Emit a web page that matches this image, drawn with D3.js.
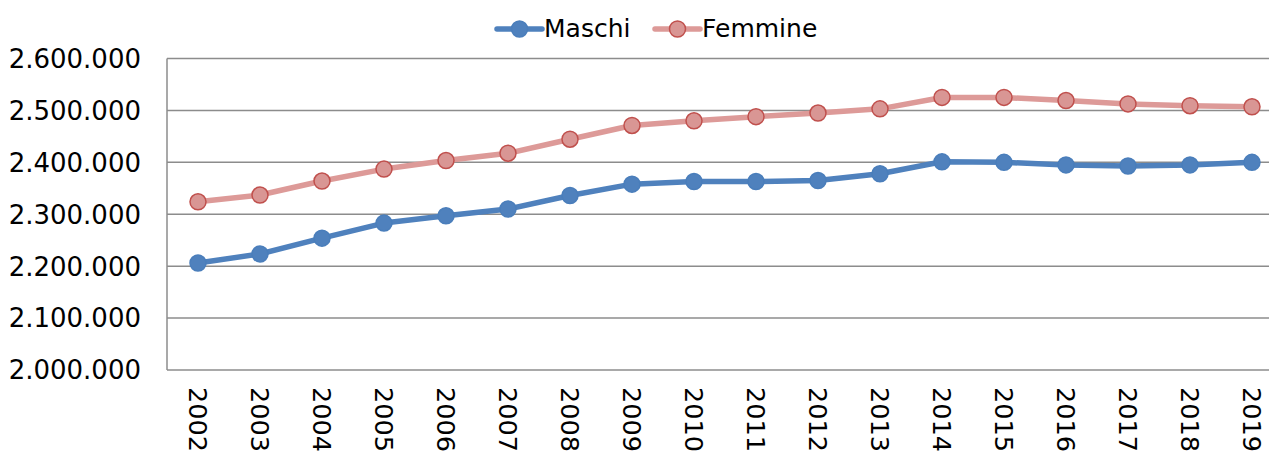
<!DOCTYPE html>
<html>
<head>
<meta charset="utf-8">
<script src="https://cdn.jsdelivr.net/npm/d3@7"></script>
<style>
  body { margin: 0; background: #fff; }
  text { font-family: "DejaVu Sans", Verdana, sans-serif; fill: #000; }
</style>
</head>
<body>
<script>
var width = 1269, height = 451;

var years = ["2002","2003","2004","2005","2006","2007","2008","2009","2010",
             "2011","2012","2013","2014","2015","2016","2017","2018","2019"];

var maschi = [2206000, 2223500, 2254000, 2283000, 2297000, 2310000, 2336000, 2358000, 2363000,
              2363000, 2365000, 2378000, 2401000, 2400000, 2395000, 2393000, 2395000, 2400000];

var femmine = [2324000, 2337000, 2364000, 2387000, 2403500, 2417500, 2444500, 2471000, 2480000,
               2488000, 2495000, 2503000, 2525000, 2525000, 2519000, 2512500, 2509000, 2507000];

var yTicks = [2000000, 2100000, 2200000, 2300000, 2400000, 2500000, 2600000];

var series = [
  {name: "Maschi", values: maschi, line: "#4f81bd", fill: "#4f81bd", stroke: "#4a7ebb"},
  {name: "Femmine", values: femmine, line: "#dd9a98", fill: "#d99694", stroke: "#c0504d"}
];

var it = d3.formatLocale({decimal: ",", thousands: ".", grouping: [3], currency: ["€", ""]});
var fmt = it.format(",");

var plotLeft = 167, plotRight = 1283, plotTop = 58.5, plotBottom = 370;

var x = d3.scalePoint().domain(years).range([plotLeft, plotRight]).padding(0.5);
var y = d3.scaleLinear().domain([2000000, 2600000]).range([plotBottom, plotTop]);

var svg = d3.select("body").append("svg")
    .attr("width", width)
    .attr("height", height);

// gridlines
svg.selectAll(".grid")
   .data(yTicks.slice(1))
   .enter()
   .append("line")
   .attr("x1", plotLeft).attr("x2", plotRight)
   .attr("y1", function(d){ return y(d); })
   .attr("y2", function(d){ return y(d); })
   .style("stroke", "#8c8c8c")
   .style("stroke-width", 1.5);

// axis lines
svg.append("line")
   .attr("x1", plotLeft).attr("x2", plotLeft).attr("y1", plotTop).attr("y2", plotBottom)
   .style("stroke", "#8c8c8c").style("stroke-width", 1.5);
svg.append("line")
   .attr("x1", plotLeft).attr("x2", plotRight).attr("y1", plotBottom).attr("y2", plotBottom)
   .style("stroke", "#8c8c8c").style("stroke-width", 1.5);

// y labels
svg.selectAll(".ylab")
   .data(yTicks)
   .enter()
   .append("text")
   .attr("x", 141)
   .attr("y", function(d){ return y(d); })
   .attr("dy", "0.36em")
   .attr("text-anchor", "end")
   .style("font-size", "26px")
   .text(function(d){ return fmt(d); });

// x labels (rotated)
svg.selectAll(".xlab")
   .data(years)
   .enter()
   .append("text")
   .attr("transform", function(d){ return "translate(" + x(d) + "," + 387 + ") rotate(90)"; })
   .attr("dy", "0.36em")
   .style("font-size", "25.5px")
   .text(function(d){ return d; });

var line = d3.line()
    .x(function(d, i){ return x(years[i]); })
    .y(function(d){ return y(d); });

series.forEach(function(s){
  svg.append("path")
     .datum(s.values)
     .attr("d", line)
     .style("fill", "none")
     .style("stroke", s.line)
     .style("stroke-width", 5.5)
     .style("stroke-linejoin", "round");

  svg.selectAll(".pt-" + s.name)
     .data(s.values)
     .enter()
     .append("circle")
     .attr("cx", function(d, i){ return x(years[i]); })
     .attr("cy", function(d){ return y(d); })
     .attr("r", 8)
     .style("fill", s.fill)
     .style("stroke", s.stroke)
     .style("stroke-width", 1.5);
});

// legend
var legendPos = [{x: 497, tx: 544}, {x: 655, tx: 702}];
series.forEach(function(s, i){
  var g = svg.append("g").attr("transform", "translate(" + legendPos[i].x + ",29)");
  g.append("line")
   .attr("x1", 0).attr("x2", 45).attr("y1", 0).attr("y2", 0)
   .style("stroke", s.line).style("stroke-width", 5.5).style("stroke-linecap", "round");
  g.append("circle")
   .attr("cx", 22.5).attr("cy", 0).attr("r", 8)
   .style("fill", s.fill).style("stroke", s.stroke).style("stroke-width", 1.5);
  svg.append("text")
   .attr("x", legendPos[i].tx)
   .attr("y", 28)
   .attr("dy", "0.36em")
   .style("font-size", "25px")
   .text(s.name);
});
</script>
</body>
</html>
